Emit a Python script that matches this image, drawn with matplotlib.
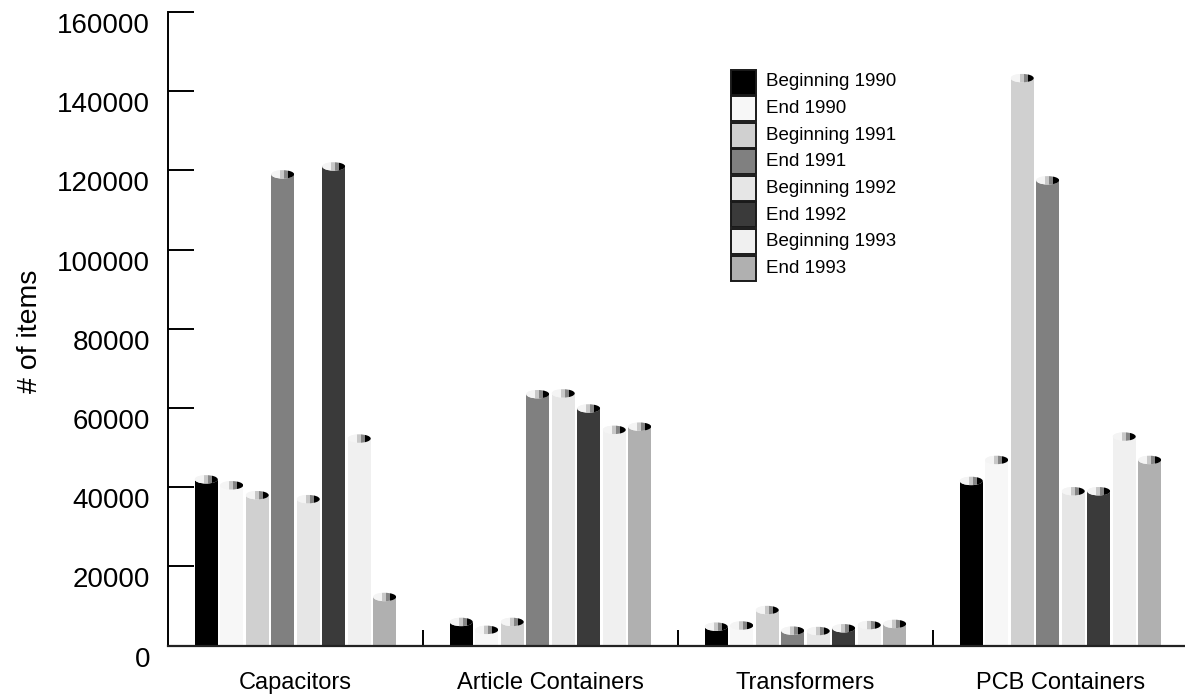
import matplotlib
matplotlib.use("Agg")
import matplotlib.pyplot as plt
from matplotlib.patches import Ellipse, Rectangle
from matplotlib.transforms import ScaledTranslation

plt.rcParams['font.family'] = ['Liberation Sans', 'DejaVu Sans']

# --- data -------------------------------------------------------------
categories = ["Capacitors", "Article Containers", "Transformers", "PCB Containers"]
series_names = ["Beginning 1990", "End 1990", "Beginning 1991", "End 1991",
                "Beginning 1992", "End 1992", "Beginning 1993", "End 1993"]
series_colors = ["#000000", "#f7f7f7", "#d0d0d0", "#808080",
                 "#e6e6e6", "#3a3a3a", "#f0f0f0", "#b0b0b0"]

beginning_1990 = [42000, 6000, 4800, 41600]
end_1990 = [40500, 4000, 5100, 46900]
beginning_1991 = [38000, 6000, 9000, 143300]
end_1991 = [119000, 63500, 3800, 117500]
beginning_1992 = [37000, 63700, 3700, 39000]
end_1992 = [121000, 59900, 4400, 39000]
beginning_1993 = [52300, 54500, 5200, 52800]
end_1993 = [12300, 55300, 5500, 46900]

series_values = [beginning_1990, end_1990, beginning_1991, end_1991,
                 beginning_1992, end_1992, beginning_1993, end_1993]

y_ticks = list(range(0, 160001, 20000))

# --- figure -----------------------------------------------------------
W, H = 1185, 700
fig = plt.figure(figsize=(W / 100, H / 100), dpi=100)
fig.patch.set_facecolor("white")
ax_left, ax_bottom, ax_w, ax_h = 168, 54.3, 1020, 633.7
ax = fig.add_axes([ax_left / W, ax_bottom / H, ax_w / W, ax_h / H])

ymax = 160000
ax.set_xlim(-0.5, len(categories) - 0.5)
ax.set_ylim(0, ymax)

pitch = 0.1
bar_w = 0.09
cap_h = 8.4 * ymax / ax_h          # cap ellipse height (data units)

# cap shading bands: (start fraction, end fraction, colour)
cap_bands = [(0.0, 0.40, "#f4f4f4"), (0.40, 0.56, "#c8c8c8"),
             (0.56, 0.74, "#858585"), (0.74, 1.0, "#000000")]

n = len(series_values)
for si, (vals, col) in enumerate(zip(series_values, series_colors)):
    offs = (si - (n - 1) / 2) * pitch
    xs = [ci + offs for ci in range(len(categories))]
    ax.bar(xs, vals, width=bar_w, color=col, edgecolor="none", zorder=2)
    for x, v in zip(xs, vals):
        ell = Ellipse((x, v), bar_w, cap_h, facecolor="#f4f4f4",
                      edgecolor="none", zorder=3)
        ax.add_patch(ell)
        x0 = x - bar_w / 2
        for f0, f1, bc in cap_bands:
            r = Rectangle((x0 + f0 * bar_w, v - cap_h), (f1 - f0) * bar_w,
                          2 * cap_h, facecolor=bc, edgecolor="none", zorder=4)
            ax.add_patch(r)
            r.set_clip_path(ell)

# --- axes styling -----------------------------------------------------
for s in ("top", "right"):
    ax.spines[s].set_visible(False)
ax.spines["left"].set_linewidth(1.4)
ax.spines["bottom"].set_linewidth(1.6)
ax.spines["bottom"].set_color("#222222")

ax.set_yticks(y_ticks)
ax.set_yticklabels([str(t) for t in y_ticks])
ax.tick_params(axis="y", direction="in", length=18.5, width=1.4,
               pad=13, labelsize=20)
offset = ScaledTranslation(0, -11 / 100, fig.dpi_scale_trans)
for lab in ax.get_yticklabels():
    lab.set_transform(lab.get_transform() + offset)

ax.set_xticks([0.5, 1.5, 2.5])
ax.set_xticklabels([])
ax.tick_params(axis="x", which="major", direction="in", length=11.5, width=1.4)
ax.set_xticks(range(len(categories)), minor=True)
ax.set_xticklabels(categories, minor=True)
ax.tick_params(axis="x", which="minor", length=0, pad=19, labelsize=17)

fig.text(30 / W, 1 - 331 / H, "# of items", rotation=90, fontsize=20.5,
         ha="center", va="center")

# --- legend (swatches + labels, placed in figure pixels) --------------
leg_x, leg_y0, sw, row = 731, 69.5, 25, 26.6
for i, (name, col) in enumerate(zip(series_names, series_colors)):
    top = leg_y0 + i * row
    fig.patches.append(Rectangle((leg_x / W, 1 - (top + sw) / H), sw / W, sw / H,
                                 transform=fig.transFigure, facecolor=col,
                                 edgecolor="#1a1a1a", linewidth=1.4))
    fig.text((leg_x + sw + 10) / W, 1 - (top + sw / 2) / H, name,
             fontsize=13.5, ha="left", va="center")

fig.savefig("out.png", dpi=100)
